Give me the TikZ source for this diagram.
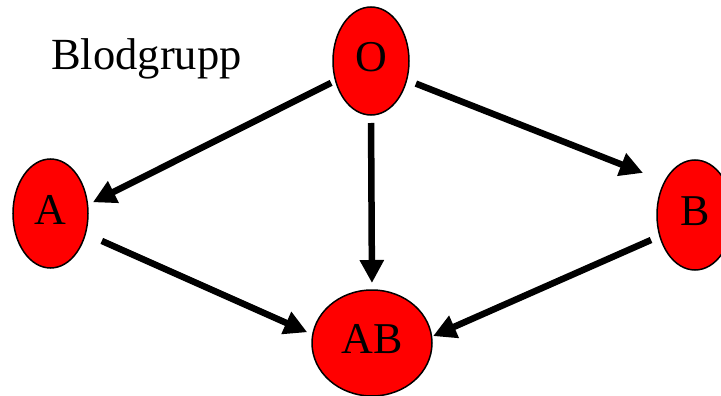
\documentclass[tikz,border=0pt]{standalone}
\usepackage{fontspec}
\setmainfont{Liberation Serif}
\usetikzlibrary{arrows.meta,shapes.geometric}

\tikzset{
  group/.style={ellipse, draw=black, line width=1.5pt, fill=red, inner sep=0pt,
    outer sep=0pt, font=\fontsize{44}{44}\selectfont, text height=29pt, text depth=8pt},
  link/.style={line width=6.5pt, -{Triangle[length=23pt,width=23pt]}},
}

\begin{document}
\begin{tikzpicture}[x=1pt,y=-1pt]
  \useasboundingbox (0,0) rectangle (721,396);

  % blood groups
  \node[group, minimum width=76pt, minimum height=108pt] (O)  at (371,61)   {O};
  \node[group, minimum width=75pt, minimum height=109pt] (A)  at (50.5,213.5) {A};
  \node[group, minimum width=76pt, minimum height=110pt] (B)  at (695,215)  {B};
  \node[group, minimum width=120pt, minimum height=106pt] (AB) at (372,343) {AB};

  % title
  \node[anchor=base west, inner sep=0pt, font=\fontsize{44.5}{44.5}\selectfont] (title) at (51,70) {Blodgrupp};

  % inheritance arrows
  \draw[link, shorten <=5pt,  shorten >=6pt]    (O.209)   -- (A.13);
  \draw[link, shorten <=8pt,  shorten >=7pt]    (O.south) -- (AB.north);
  \draw[link, shorten <=10pt, shorten >=23.5pt] (O.-28.5) -- (B.132);
  \draw[link, shorten <=18pt, shorten >=6pt]    (A.-30)   -- (AB.172);
  \draw[link, shorten <=9.7pt, shorten >=1.6pt] (B.211)   -- (AB.6);
\end{tikzpicture}
\end{document}
